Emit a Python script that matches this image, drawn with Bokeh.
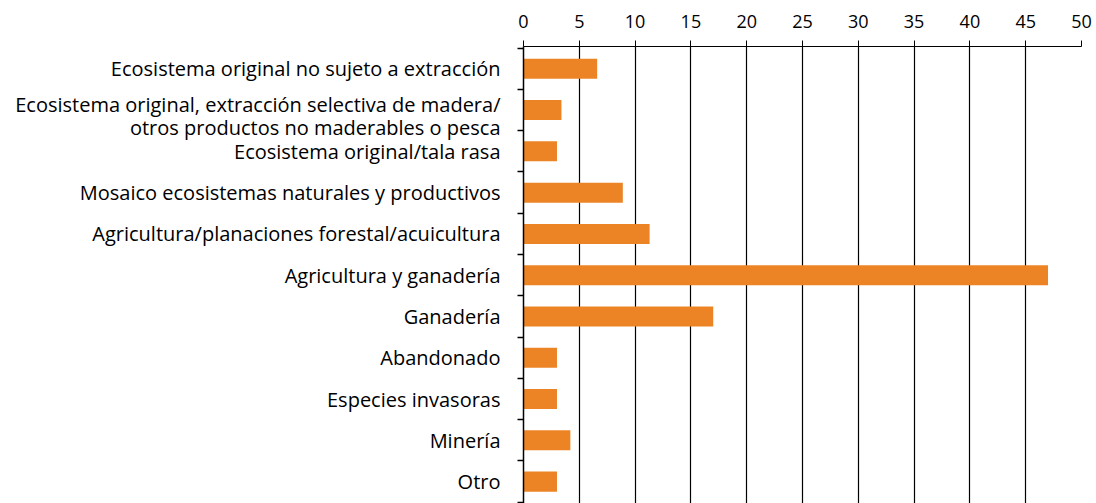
from bokeh.plotting import figure
from bokeh.models import Range1d, FixedTicker
from bokeh.embed import file_html
from bokeh.resources import INLINE

categories = [
    "Ecosistema original no sujeto a extracción",
    "Ecosistema original, extracción selectiva de madera/\notros productos no maderables o pesca",
    "Ecosistema original/tala rasa",
    "Mosaico ecosistemas naturales y productivos",
    "Agricultura/planaciones forestal/acuicultura",
    "Agricultura y ganadería",
    "Ganadería",
    "Abandonado",
    "Especies invasoras",
    "Minería",
    "Otro",
]
values = [6.6, 3.4, 3.0, 8.9, 11.3, 47.0, 17.0, 3.0, 3.0, 4.2, 3.0]
x_ticks = [0, 5, 10, 15, 20, 25, 30, 35, 40, 45, 50]

FONT = "Open Sans"
positions = list(range(len(categories)))
boundaries = [i - 0.5 for i in range(len(categories) + 1)]

# tick label placement (multi-line labels split into one tick per line)
LINE_STEP = 0.56
ML_SHIFT = 0.14
label_ticks = []
label_overrides = {}
for i, c in enumerate(categories):
    lines = c.split("\n")
    n = len(lines)
    for k, line in enumerate(lines):
        t = i + (k - (n - 1) / 2) * LINE_STEP + (ML_SHIFT if n > 1 else 0.0)
        t = round(t, 4)
        label_ticks.append(t)
        label_overrides[t] = line

p = figure(
    width=1096, height=503,
    output_backend="svg", toolbar_location=None,
    x_range=Range1d(0, 50), y_range=Range1d(10.53, -0.54),
    x_axis_location="above",
    min_border_left=523, min_border_right=15, min_border_top=46, min_border_bottom=0,
)
p.outline_line_color = None
p.background_fill_color = "white"
p.border_fill_color = "white"

p.hbar(y=positions, right=values, left=0, height=0.485, color="#EC8325", line_color=None)

# top x axis
xa = p.xaxis[0]
xa.ticker = FixedTicker(ticks=x_ticks, minor_ticks=[])
xa.major_tick_out = 6
xa.major_tick_in = 0
xa.minor_tick_out = 0
xa.axis_line_color = "black"
xa.axis_line_width = 1
xa.major_tick_line_color = "black"
xa.major_label_text_font = FONT
xa.major_label_text_font_size = "18px"
xa.major_label_text_color = "black"
xa.major_label_standoff = 13

# left y axis
ya = p.yaxis[0]
ya.ticker = FixedTicker(ticks=label_ticks, minor_ticks=boundaries)
ya.major_label_overrides = label_overrides
ya.major_tick_out = 0
ya.major_tick_in = 0
ya.minor_tick_out = 6
ya.minor_tick_in = 0
ya.minor_tick_line_color = "black"
ya.minor_tick_line_width = 1.5
ya.axis_line_color = "black"
ya.axis_line_width = 1.5
ya.major_label_text_font = FONT
ya.major_label_text_font_size = "20px"
ya.major_label_text_color = "black"
ya.major_label_standoff = 17

p.xgrid.ticker = FixedTicker(ticks=x_ticks)
p.xgrid.grid_line_color = "black"
p.xgrid.grid_line_width = 1.2
p.ygrid.grid_line_color = None

open("out.html", "w").write(file_html(p, INLINE))
